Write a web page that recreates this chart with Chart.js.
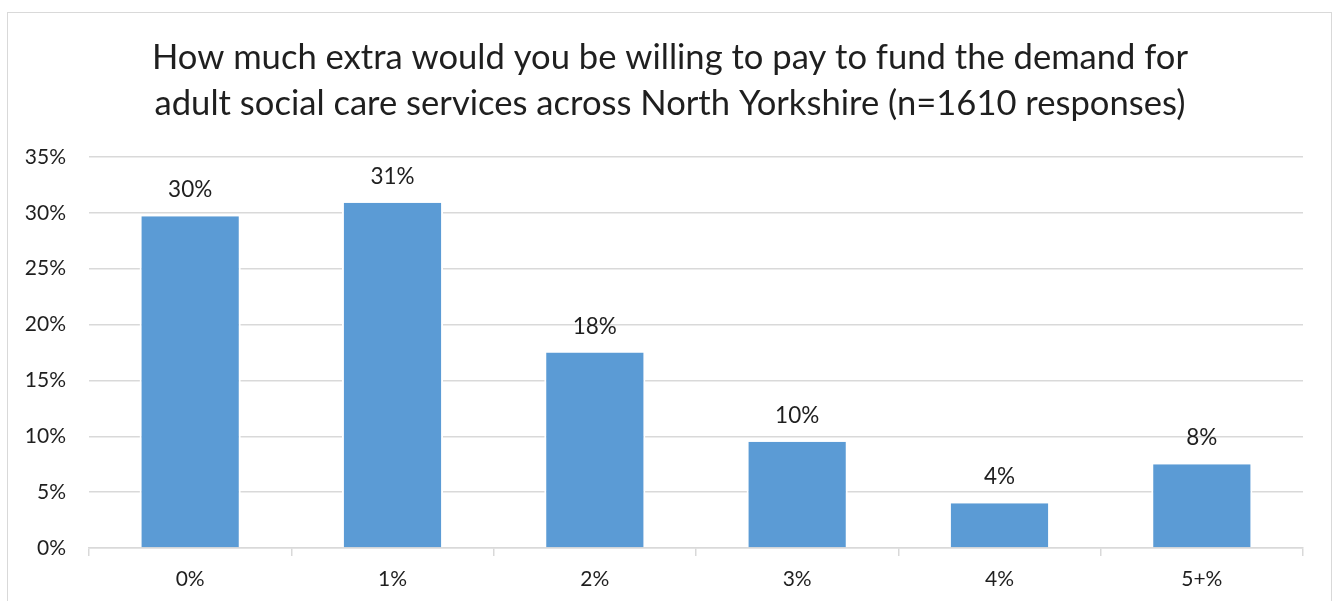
<!DOCTYPE html>
<html>
<head>
<meta charset="utf-8">
<script src="https://cdn.jsdelivr.net/npm/chart.js@4"></script>
<style>
    html, body { margin: 0; padding: 0; background: #fff; }
    #wrap { width: 1333px; height: 601px; }
</style>
</head>
<body>
<div id="wrap"><canvas id="myChart" width="1333" height="601"></canvas></div>
<script>
    // survey answers
    let categories = ['0%', '1%', '2%', '3%', '4%', '5+%'];
    let shares = [29.7, 30.9, 17.5, 9.5, 4.0, 7.5];
    let titleLines = [
        'How much extra would you be willing to pay to fund the demand for',
        'adult social care services across North Yorkshire (n=1610 responses)'
    ];
    let yMax = 35;
    let yStep = 5;

    let textColor = '#1f1f1f';
    let lineColor = '#d9d9d9';
    let fontName = 'Lato';

    // white background, light frame and the two title lines
    let framePlugin = {
        id: 'frame',
        beforeDraw: function(chart) {
            let ctx = chart.ctx;
            ctx.save();
            ctx.fillStyle = '#fff';
            ctx.fillRect(0, 0, chart.width, chart.height);
            ctx.strokeStyle = lineColor;
            ctx.lineWidth = 1;
            ctx.strokeRect(7.5, 12.5, chart.width - 9, chart.height + 10);

            ctx.font = '34.6px ' + fontName;
            ctx.fillStyle = textColor;
            ctx.textAlign = 'center';
            ctx.textBaseline = 'alphabetic';
            titleLines.forEach(function(line, i) {
                ctx.fillText(line, 670, 69 + i * 46);
            });
            ctx.restore();
        }
    };

    // value above every bar
    let valueLabels = {
        id: 'valueLabels',
        afterDatasetsDraw: function(chart) {
            let ctx = chart.ctx;
            let meta = chart.getDatasetMeta(0);
            ctx.save();
            ctx.font = '22.5px ' + fontName;
            ctx.fillStyle = textColor;
            ctx.textAlign = 'center';
            ctx.textBaseline = 'alphabetic';
            meta.data.forEach(function(bar, i) {
                let v = chart.data.datasets[0].data[i];
                ctx.fillText(Math.round(v) + '%', bar.x, bar.y - 19);
            });
            ctx.restore();
        }
    };

    let chart = new Chart('myChart', {
        type: 'bar',
        data: {
            labels: categories,
            datasets: [{
                data: shares,
                backgroundColor: '#5b9bd5',
                borderColor: '#ffffff',
                borderWidth: { left: 2, right: 2, top: 0, bottom: 0 },
                barPercentage: 0.5,
                categoryPercentage: 1
            }]
        },
        options: {
            responsive: false,
            animation: false,
            layout: { padding: { left: 0, right: 30, top: 157, bottom: 0 } },
            plugins: {
                legend: { display: false },
                tooltip: { enabled: false },
                title: { display: false }
            },
            scales: {
                x: {
                    grid: {
                        offset: true,
                        drawOnChartArea: false,
                        drawTicks: true,
                        tickLength: 8,
                        color: lineColor,
                        lineWidth: 1.5
                    },
                    border: { display: true, color: lineColor, width: 1.5 },
                    ticks: {
                        color: textColor,
                        font: { family: fontName, size: 21 },
                        padding: 11
                    },
                    afterFit: function(scale) { scale.height = 53; }
                },
                y: {
                    min: 0,
                    max: yMax,
                    grid: { color: lineColor, lineWidth: 1.5, drawTicks: false },
                    border: { display: false },
                    ticks: {
                        stepSize: yStep,
                        color: textColor,
                        font: { family: fontName, size: 21 },
                        padding: 23,
                        callback: function(value) { return value + '%'; }
                    },
                    afterFit: function(scale) { scale.width = 89; }
                }
            }
        },
        plugins: [framePlugin, valueLabels]
    });
</script>
</body>
</html>
